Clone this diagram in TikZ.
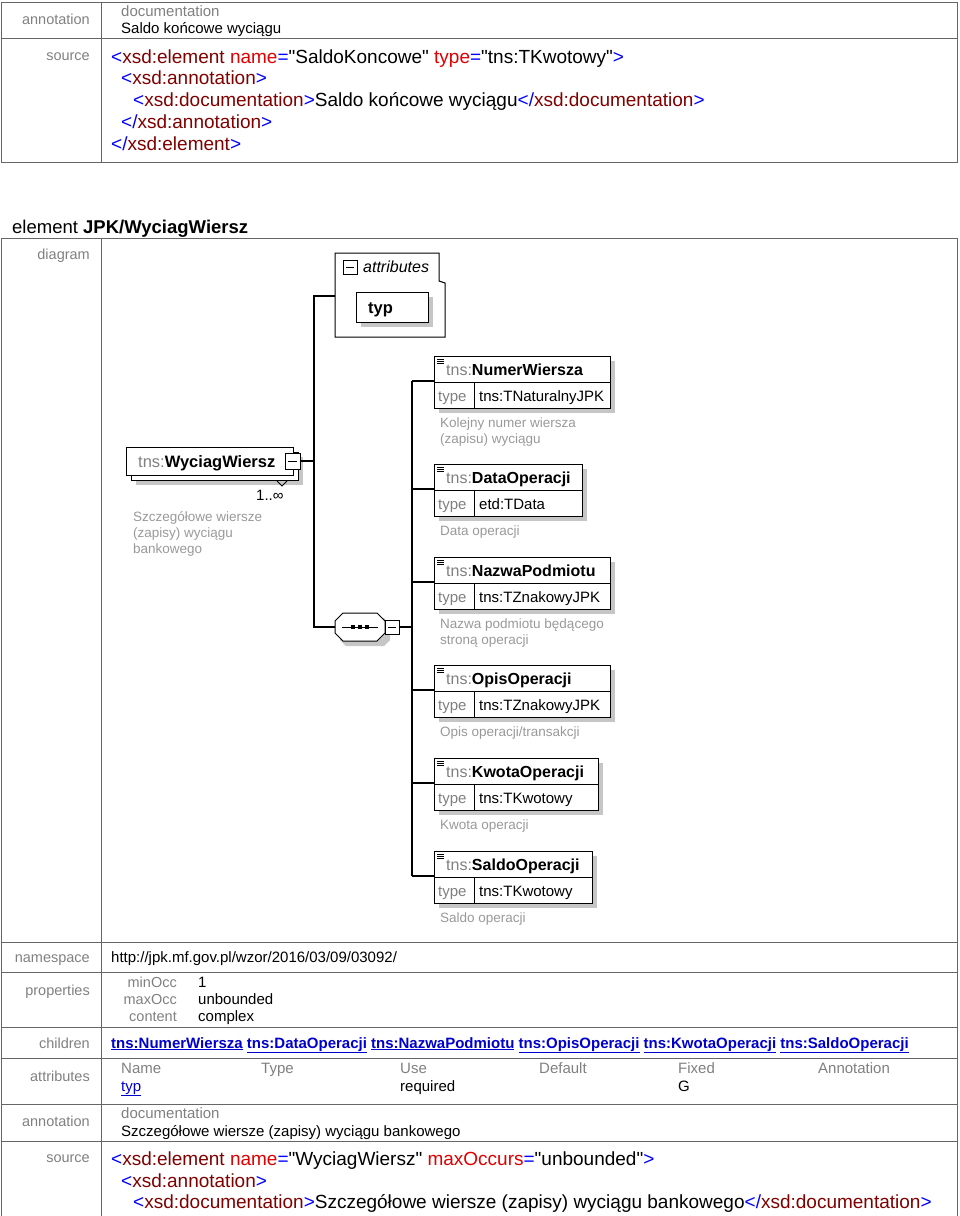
\documentclass[tikz,border=0pt]{standalone}
\usepackage{fontspec}
\setmainfont{Liberation Sans}[Ligatures=TeXOff]
\usetikzlibrary{positioning}
\usetikzlibrary{calc}
\definecolor{xblue}{HTML}{0000FF}
\definecolor{xtag}{HTML}{800000}
\definecolor{xattr}{HTML}{E00000}
\definecolor{xlink}{HTML}{0000CC}
\definecolor{xgray}{HTML}{808080}
\newcommand\xq{\symbol{34}}
\newcommand\xopen[1]{\textcolor{xblue}{<}\textcolor{xtag}{#1}}
\newcommand\xattr[2]{ \textcolor{xattr}{#1}\textcolor{xblue}{=}\xq#2\xq}
\newcommand\xgt{\textcolor{xblue}{>}}
\newcommand\xclose[1]{\textcolor{xblue}{</}\textcolor{xtag}{#1}\textcolor{xblue}{>}}
\newcommand\xlnk[1]{\textcolor{xlink}{\underline{#1}}}
\begin{document}
\begin{tikzpicture}[x=1pt,y=-1pt,
                    cell/.style={draw=gray!80!black, line width=1pt},
                    lbl/.style={anchor=base east, text=xgray, inner sep=0, font=\fontsize{14.5}{16}\selectfont},
                    txt/.style={anchor=base west, inner sep=0, font=\fontsize{15}{17}\selectfont},
                    src/.style={anchor=base west, inner sep=0, font=\fontsize{19}{21}\selectfont},
                    dia/.style={anchor=base west, inner sep=0, font=\fontsize{15}{17}\selectfont},
                    desc/.style={anchor=base west, inner sep=0, text=gray!80, font=\fontsize{13.5}{15}\selectfont},
                    shade/.style={fill=gray!45},
                    conn/.style={draw, line width=1.3pt}]
    \useasboundingbox (0,0) rectangle (960,1216);
    % upper table
    \draw[cell] (1,2) rectangle (957,162);
    \draw[cell] (1,38) -- (957,38);
    \draw[cell] (101,2) -- (101,162);
    \node[lbl] at (90,24) {annotation};
    \node[txt, text=xgray] at (121,16) {documentation};
    \node[txt] at (121,33) {Saldo końcowe wyciągu};
    \node[lbl] at (90,60) {source};
    \node[src] at (111,63) {\xopen{xsd:element}\xattr{name}{SaldoKoncowe}\xattr{type}{tns:TKwotowy}\xgt};
    \node[src] at (121,84) {\xopen{xsd:annotation}\xgt};
    \node[src] at (133,106) {\xopen{xsd:documentation}\xgt Saldo końcowe wyciągu\xclose{xsd:documentation}};
    \node[src] at (121,128) {\xclose{xsd:annotation}};
    \node[src] at (111,150) {\xclose{xsd:element}};
    % heading
    \node[anchor=base west, inner sep=0, font=\fontsize{18.5}{20}\selectfont] at (12,233) {element \textbf{JPK/WyciagWiersz}};
    % lower table
    \draw[cell] (1,238) rectangle (957,1218);
    \foreach \y in {942,972,1027,1058,1104,1141}
        \draw[cell] (1,\y) -- (957,\y);
    \draw[cell] (101,238) -- (101,1218);
    \node[lbl] at (90,259) {diagram};
    \node[lbl] at (90,962) {namespace};
    \node[lbl] at (90,995) {properties};
    \node[lbl] at (90,1048) {children};
    \node[lbl] at (90,1081) {attributes};
    \node[lbl] at (90,1126) {annotation};
    \node[lbl] at (90,1162) {source};
    % table contents
    \node[txt] at (111,962) {http://jpk.mf.gov.pl/wzor/2016/03/09/03092/};
    \foreach \k/\v/\y in {minOcc/1/987, maxOcc/unbounded/1004, content/complex/1021}{
        \node[lbl] at (177,\y) {\k};
        \node[txt] at (198,\y) {\v};
    }
    \node[txt, font=\fontsize{15}{17}\selectfont\bfseries] at (111,1048) {\xlnk{tns:NumerWiersza} \xlnk{tns:DataOperacji} \xlnk{tns:NazwaPodmiotu} \xlnk{tns:OpisOperacji} \xlnk{tns:KwotaOperacji} \xlnk{tns:SaldoOperacji}};
    \foreach \h/\x in {Name/121, Type/261, Use/400, Default/539, Fixed/678, Annotation/818}
        \node[txt, text=xgray] at (\x,1073) {\h};
    \node[txt] at (121,1091) {\xlnk{typ}};
    \node[txt] at (400,1091) {required};
    \node[txt] at (678,1091) {G};
    \node[txt, text=xgray] at (121,1118) {documentation};
    \node[txt] at (121,1136) {Szczegółowe wiersze (zapisy) wyciągu bankowego};
    \node[src] at (111,1165) {\xopen{xsd:element}\xattr{name}{WyciagWiersz}\xattr{maxOccurs}{unbounded}\xgt};
    \node[src] at (121,1187) {\xopen{xsd:annotation}\xgt};
    \node[src] at (133,1208) {\xopen{xsd:documentation}\xgt Szczegółowe wiersze (zapisy) wyciągu bankowego\xclose{xsd:documentation}};
    % diagram: main element
    \fill[shade] (136,457) rectangle (303,485);
    \draw[fill=white, line width=1pt] (131,452) rectangle (298,480);
    \draw[fill=white, line width=1pt] (126,447) rectangle (293,475);
    \node[dia, font=\fontsize{16.5}{19}\selectfont] (main) at (138,467) {\textcolor{gray}{tns:}\textbf{WyciagWiersz}};
    \draw[fill=white, line width=1pt] (285,453) rectangle (300,469);
    \draw[line width=1pt] (288,461) -- (297,461);
    \coordinate (mainout) at (300,461);
    \draw[line width=0.8pt] (277,481) -- (282,486) -- (287,481);
    \node[anchor=base west, inner sep=0, font=\fontsize{15}{17}\selectfont] at (256,500) {1..∞};
    \node[desc] at (133,521) {Szczegółowe wiersze};
    \node[desc] at (133,537) {(zapisy) wyciągu};
    \node[desc] at (133,553) {bankowego};
    % attributes group
    \draw[fill=white, line width=1pt] (335,253) -- (439,253) -- (439,281) -- (445,283) -- (445,337) -- (335,337) -- cycle;
    \draw[fill=white, line width=1pt] (343,260) rectangle (357,274);
    \draw[line width=1pt] (346,267) -- (354,267);
    \node[dia, font=\fontsize{16}{18}\selectfont\itshape] at (363,272) {attributes};
    \fill[shade] (361,297) rectangle (433,327);
    \draw[fill=white, line width=1pt] (356,292) rectangle (428,322);
    \node[dia, font=\fontsize{16.5}{18}\selectfont] at (368,313) {\textbf{typ}};
    \coordinate (attin) at (335,296);
    % sequence compositor
    \fill[shade] (340,618) -- (384,618) -- (390,624) -- (390,640) -- (384,646) -- (346,646) -- (340,640) -- cycle;
    \draw[fill=white, line width=1pt] (343,613) -- (377,613) -- (385,621) -- (385,633) -- (377,641) -- (343,641) -- (335,633) -- (335,621) -- cycle;
    \draw[line width=1pt] (342,627) -- (378,627);
    \foreach \x in {351,358,365}
        \fill (\x,625) rectangle ++(4,4);
    \draw[fill=white, line width=1pt] (385,620) rectangle (399,634);
    \draw[line width=1pt] (388,627) -- (396,627);
    \coordinate (seqin) at (335,627);
    \coordinate (seqout) at (399,627);
    % connectors
    \coordinate (tree) at (314,461);
    \draw[conn] (mainout) -- (tree);
    \draw[conn] (attin) -| (tree) |- (seqin);
    \coordinate (bus) at (412,627);
    \draw[conn] (seqout) -- (bus);
    % children
    \foreach \nm/\ty/\t/\w/\da/\db in {NumerWiersza/tns:TNaturalnyJPK/356/176/Kolejny numer wiersza/(zapisu) wyciągu,
            DataOperacji/etd:TData/464/148/Data operacji/{},
            NazwaPodmiotu/tns:TZnakowyJPK/557/176/Nazwa podmiotu będącego/stroną operacji,
            OpisOperacji/tns:TZnakowyJPK/665/176/{Opis operacji/transakcji}/{},
            KwotaOperacji/tns:TKwotowy/758/164/Kwota operacji/{},
            SaldoOperacji/tns:TKwotowy/851/158/Saldo operacji/{}}{
        \fill[shade] (439,\t+5) rectangle ++(\w,52);
        \draw[fill=white, line width=1pt] (434,\t) rectangle ++(\w,52);
        \draw[line width=1pt] (434,\t+26) -- ++(\w,0);
        \draw[line width=1pt] (474,\t+26) -- ++(0,26);
        \foreach \i in {0,2,4}
            \draw[line width=0.8pt] (437,\t+3+\i) -- ++(7,0);
        \node[dia, font=\fontsize{16}{19}\selectfont] (n-\nm) at (446,\t+19) {\textcolor{gray}{tns:}\textbf{\nm}};
        \node[dia, text=gray] at (438,\t+45) {type};
        \node[dia] at (479,\t+45) {\ty};
        \node[desc] at (440,\t+71) {\da};
        \node[desc] at (440,\t+87) {\db};
        \coordinate (c-\nm) at (434,\t+25);
        \draw[conn] (c-\nm) -- (bus |- c-\nm);
    }
    \draw[conn] (bus |- c-NumerWiersza) -- (bus |- c-SaldoOperacji);
\end{tikzpicture}
\end{document}
